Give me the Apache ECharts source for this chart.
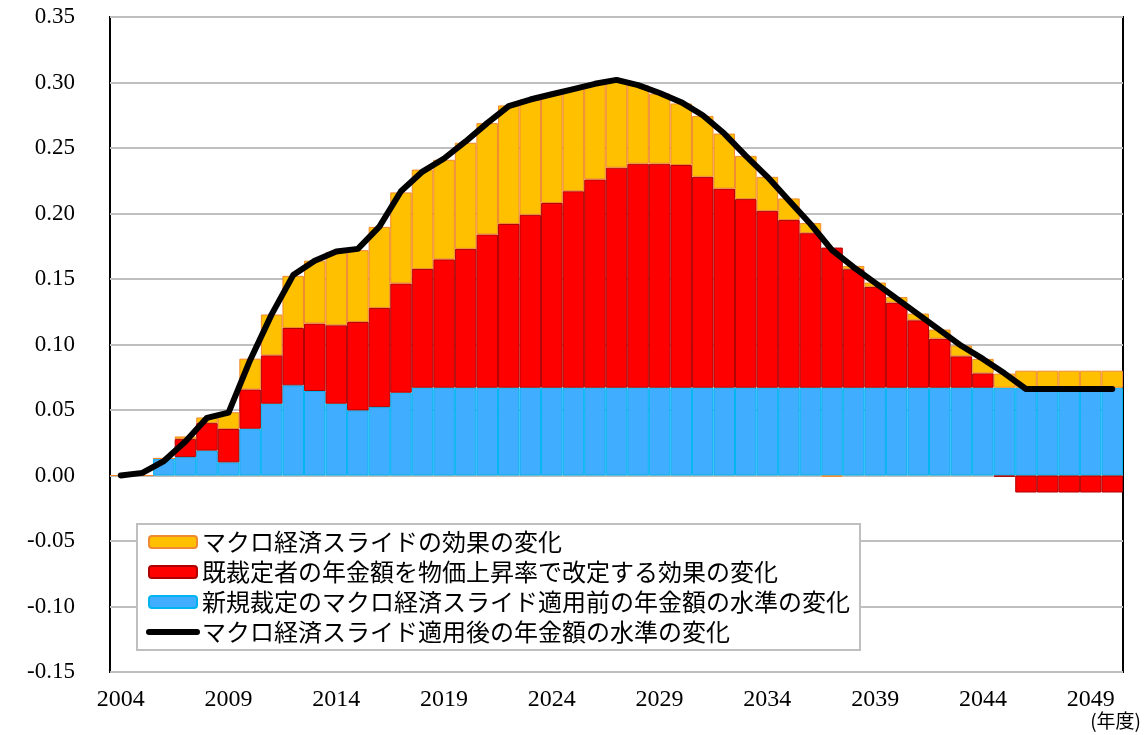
<!DOCTYPE html>
<html>
<head>
<meta charset="utf-8">
<script src="https://cdn.jsdelivr.net/npm/echarts@6/dist/echarts.min.js"></script>
<style>
html,body{margin:0;padding:0;background:#fff;}
#chart{width:1145px;height:735px;}
</style>
</head>
<body>
<div id="chart"></div>
<script>
const categories = ['2004','2005','2006','2007','2008','2009','2010','2011','2012','2013','2014','2015','2016','2017','2018','2019','2020','2021','2022','2023','2024','2025','2026','2027','2028','2029','2030','2031','2032','2033','2034','2035','2036','2037','2038','2039','2040','2041','2042','2043','2044','2045','2046','2047','2048','2049','2050'];

// 新規裁定のマクロ経済スライド適用前の年金額の水準の変化
const blueNew = [0,0,0.013,0.014,0.019,0.010,0.0357,0.0548,0.0688,0.0645,0.0548,0.0497,0.0522,0.0632,0.067,0.067,0.067,0.067,0.067,0.067,0.067,0.067,0.067,0.067,0.067,0.067,0.067,0.067,0.067,0.067,0.067,0.067,0.067,0.067,0.067,0.067,0.067,0.067,0.067,0.067,0.067,0.067,0.067,0.067,0.067,0.067,0.067];

// 既裁定者の年金額を物価上昇率で改定する効果の変化
const redExisting = [0,0,0,0.0138,0.021,0.0255,0.030,0.0369,0.0438,0.0515,0.0599,0.0675,0.0757,0.0834,0.0906,0.098,0.106,0.117,0.125,0.132,0.141,0.150,0.159,0.168,0.171,0.171,0.170,0.161,0.152,0.144,0.135,0.128,0.118,0.107,0.0905,0.077,0.065,0.0515,0.0375,0.024,0.011,-0.001,-0.013,-0.013,-0.013,-0.013,-0.013];

// マクロ経済スライドの効果の変化
const orangeSlide = [0,0,0,0.002,0.0043,0.0128,0.0235,0.0312,0.0398,0.048,0.056,0.0548,0.0619,0.0695,0.0759,0.076,0.081,0.085,0.0905,0.088,0.083,0.078,0.073,0.067,0.060,0.0535,0.047,0.0465,0.042,0.033,0.026,0.0165,0.0077,-0.001,0.0025,0.0033,0.0042,0.0051,0.0069,0.0082,0.011,0.0108,0.013,0.013,0.013,0.013,0.013];

// マクロ経済スライド適用後の年金額の水準の変化
const lineAfter = [0,0.002,0.011,0.026,0.044,0.048,0.088,0.123,0.153,0.164,0.171,0.173,0.190,0.217,0.232,0.242,0.255,0.269,0.282,0.287,0.291,0.295,0.299,0.302,0.298,0.292,0.285,0.275,0.261,0.244,0.228,0.210,0.192,0.172,0.159,0.147,0.135,0.123,0.111,0.099,0.089,0.078,0.066,0.066,0.066,0.066,0.066];

const names = [
  'マクロ経済スライドの効果の変化',
  '既裁定者の年金額を物価上昇率で改定する効果の変化',
  '新規裁定のマクロ経済スライド適用前の年金額の水準の変化',
  'マクロ経済スライド適用後の年金額の水準の変化'
];

const chart = echarts.init(document.getElementById('chart'), null, {renderer:'canvas'});
const serif = '"Liberation Serif","DejaVu Serif",serif';
const cjk = '"Noto Sans CJK JP","Noto Sans",sans-serif';

chart.setOption({
  animation:false,
  backgroundColor:'#fff',
  grid:{left:110,right:22,top:17,bottom:63,show:true,borderColor:'#000',borderWidth:2,backgroundColor:'transparent'},
  legend:{
    orient:'vertical',left:137,top:524,
    backgroundColor:'#fff',borderColor:'#BFBFBF',borderWidth:2,
    padding:[6,10,6,9],itemGap:6,itemWidth:48,itemHeight:12,itemTextGap:5,
    textStyle:{fontFamily:cjk,fontSize:24,color:'#000'},
    data:[names[0],names[1],names[2],{name:names[3],itemStyle:{opacity:0},lineStyle:{width:6,cap:'round'}}]
  },
  xAxis:{
    type:'category',data:categories,boundaryGap:true,
    axisLine:{onZero:false,show:false},
    axisTick:{show:false},
    axisLabel:{interval:4,margin:16,fontFamily:serif,fontSize:24,color:'#000'},
    splitLine:{show:false}
  },
  yAxis:{
    type:'value',min:-0.15,max:0.35,interval:0.05,
    axisLine:{show:false},axisTick:{show:false},
    axisLabel:{margin:35,fontFamily:serif,fontSize:23,color:'#000',
      formatter:function(v){return v.toFixed(2);}},
    splitLine:{show:true,lineStyle:{color:'#BFBFBF',width:2}}
  },
  series:[
    {name:names[2],type:'bar',stack:'a',data:blueNew,barCategoryGap:'0%',
     itemStyle:{color:'#40ADFF',borderColor:'#00B4F0',borderWidth:1}},
    {name:names[1],type:'bar',stack:'a',data:redExisting,
     itemStyle:{color:'#FF0000',borderColor:'#B00000',borderWidth:1}},
    {name:names[0],type:'bar',stack:'a',data:orangeSlide,
     itemStyle:{color:'#FFC000',borderColor:'#F08A30',borderWidth:1}},
    {name:names[3],type:'line',data:lineAfter,symbol:'none',z:5,
     lineStyle:{color:'#000',width:6,cap:'round',join:'round'},itemStyle:{color:'#000'}}
  ],
  graphic:[{type:'text',right:4,top:711,style:{text:'(年度)',font:'19px "Noto Sans CJK JP"',fill:'#000'}}]
});
</script>
</body>
</html>
